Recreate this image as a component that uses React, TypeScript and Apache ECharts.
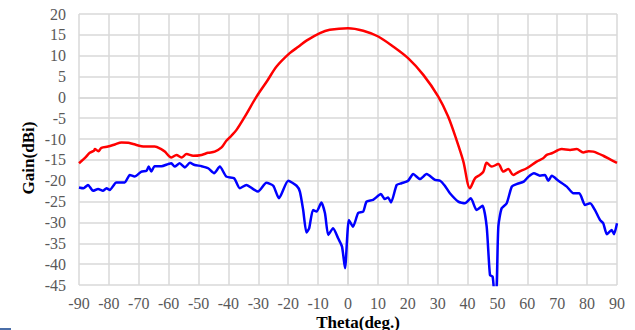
import React, { useEffect, useRef } from "react";
import * as echarts from "echarts";

const xTicks = { min: -90, max: 90, step: 10 };
const yTicks = { min: -45, max: 20, step: 5 };

const redTheta = [
  -90, -88, -86.4, -85, -84.7, -83.5, -82.5, -80.3, -78, -75.8, -73.5, -71.9, -68, -64.7, -62.5, -61.3,
  -59.1, -57.4, -55.7, -54, -51.8, -49, -46.8, -44.6, -42.3, -40.7, -39, -37.3, -34.5, -30.6, -27,
  -23.9, -19.5, -16.5, -13.9, -9.4, -6.1, 0, 5.1, 10.1, 15.1, 20.1, 25.2, 30.2, 33.5, 36.3, 38.6,
  40.8, 42.5, 44.1, 45.3, 46.4, 48.1, 50.3, 52, 53.6, 55.3, 57, 59.8, 63.1, 65.3, 66.5, 68.2, 71.5,
  74.3, 76.5, 78.7, 80.5, 82.1, 85.4, 88, 90,
];
const redGain = [
  -15.8, -14.5, -13.3, -12.8, -12.4, -12.9, -12.1, -11.8, -11.3, -10.8, -10.9, -11.2, -11.8, -11.8, -12.4, -13.0,
  -14.4, -13.8, -14.4, -13.6, -14.0, -13.8, -13.3, -13.0, -12.0, -10.4, -9.2, -7.8, -4.6, 0.2, 4.0,
  7.4, 10.6, 12.2, 13.6, 15.4, 16.2, 16.6, 16.0, 14.6, 12.2, 9.4, 5.4, 0.2, -4.6, -10.2, -15.4,
  -21.8, -19.4, -18.6, -17.8, -15.7, -16.6, -16.0, -17.8, -17.2, -18.6, -17.9, -17.0, -15.4, -14.6, -13.8, -13.4, -12.4,
  -12.6, -12.4, -13.2, -12.9, -13.0, -14.0, -15.0, -15.7,
];

const blueTheta = [
  -90, -88.5, -87, -85.3, -83.6, -82, -80.8, -79.7, -77.5, -74.7, -73, -71.4, -69.1, -67.4, -66.7, -65.8,
  -64.7, -62.4, -60.2, -59.1, -58, -56.3, -54.6, -52.9, -51.3, -49, -46.8, -44.8, -42.9, -40.7, -38.1,
  -36.2, -34, -31.7, -30.1, -27.3, -25, -23.1, -20, -17.2, -16.1, -15, -13.9, -13, -11.7, -10.5, -8.9,
  -7.7, -6.6, -5, -3.3, -2, -1, 0.3, 1.7, 3.4, 5.1, 6.2, 8.4, 11, 12.3, 13.4, 14.4, 16.3, 17.9, 20.1,
  21.8, 24.1, 26.3, 29.1, 30.8, 32.4, 34.1, 36.9, 39.1, 41.1, 43, 45, 46.4, 47.5, 48.4, 49.1, 49.7,
  50.3, 51.4, 53.1, 54.8, 56.4, 58.8, 60.4, 62.2, 64.2, 65.9, 67, 68.2, 70.4, 73.2, 75.4, 77.4, 79.3,
  81, 82.6, 84.3, 85.4, 86.6, 88.2, 89, 90,
];
const blueGain = [
  -21.6, -21.8, -21.0, -22.4, -22.0, -22.4, -21.8, -22.2, -20.4, -20.4, -18.6, -19.0, -17.8, -17.6, -16.6, -17.8,
  -16.5, -16.5, -16.0, -15.8, -16.6, -15.8, -16.8, -15.7, -16.2, -16.5, -17.0, -18.2, -16.6, -19.0, -19.4,
  -21.8, -21.0, -22.0, -22.6, -20.5, -21.2, -24.2, -20.0, -21.2, -22.6, -27.0, -32.4, -31.4, -27.0, -27.4, -25.2,
  -27.8, -33.0, -31.4, -33.8, -35.8, -41.0, -29.4, -31.0, -27.7, -27.4, -25.0, -24.6, -23.2, -24.4, -24.0, -25.2, -21.0, -20.6, -20.0,
  -18.4, -19.6, -18.4, -19.8, -20.0, -21.2, -23.0, -25.0, -25.4, -24.2, -27.0, -26.0, -31.0, -42.6, -43.0, -48.0, -46.0,
  -31.0, -26.6, -25.4, -21.4, -20.8, -20.2, -19.0, -18.2, -18.8, -18.6, -20.0, -18.8, -20.0, -21.4, -23.0, -23.0, -25.8,
  -25.4, -27.0, -29.4, -30.2, -32.8, -31.8, -32.8, -30.2,
];

const xTitle = "Theta(deg.)";
const yTitle = "Gain(dBi)";

const FONT = '"Liberation Serif", "Times New Roman", serif';

export default function App() {
  const ref = useRef<HTMLDivElement>(null);
  useEffect(() => {
    if (!ref.current) return;
    const chart = echarts.init(ref.current, undefined, { renderer: "svg" });
    const redData = redTheta.map((t, i) => [t, redGain[i]]);
    const blueData = blueTheta.map((t, i) => [t, blueGain[i]]);
    chart.setOption({
      animation: false,
      backgroundColor: "#ffffff",
      grid: { left: 79, top: 14, width: 538, height: 271, containLabel: false },
      xAxis: {
        type: "value",
        min: xTicks.min,
        max: xTicks.max,
        interval: xTicks.step,
        axisLine: { show: true, lineStyle: { color: "#d9d9d9", width: 1.5 } },
        axisTick: { show: false },
        splitLine: { show: true, lineStyle: { color: "#d9d9d9", width: 1.5 } },
        axisLabel: { fontFamily: FONT, fontSize: 16, color: "#595959", margin: 10 },
      },
      yAxis: {
        type: "value",
        min: yTicks.min,
        max: yTicks.max,
        interval: yTicks.step,
        axisLine: { show: true, lineStyle: { color: "#d9d9d9", width: 1.5 } },
        axisTick: { show: false },
        splitLine: { show: true, lineStyle: { color: "#d9d9d9", width: 1.5 } },
        axisLabel: { fontFamily: FONT, fontSize: 16, color: "#595959", margin: 13 },
      },
      graphic: [
        {
          type: "text",
          x: 358,
          y: 322,
          style: {
            text: xTitle,
            font: `bold 17px ${FONT}`,
            fill: "#000000",
            align: "center",
            verticalAlign: "middle",
          },
        },
        {
          type: "text",
          x: 28,
          y: 158,
          rotation: Math.PI / 2,
          style: {
            text: yTitle,
            font: `bold 17px ${FONT}`,
            fill: "#000000",
            align: "center",
            verticalAlign: "middle",
          },
        },
        {
          type: "rect",
          shape: { x: 0, y: 328, width: 11, height: 2 },
          style: { fill: "#4a6ea8" },
        },
      ],
      series: [
        {
          type: "line",
          data: redData,
          showSymbol: false,
          smooth: 0.3,
          clip: true,
          lineStyle: { color: "#ff0000", width: 2.5 },
        },
        {
          type: "line",
          data: blueData,
          showSymbol: false,
          smooth: 0.2,
          clip: true,
          lineStyle: { color: "#0000ff", width: 2.5 },
        },
      ],
    });
    return () => chart.dispose();
  }, []);
  return (
    <div
      ref={ref}
      style={{ position: "fixed", left: 0, top: 0, width: 635, height: 330, background: "#fff" }}
    />
  );
}
